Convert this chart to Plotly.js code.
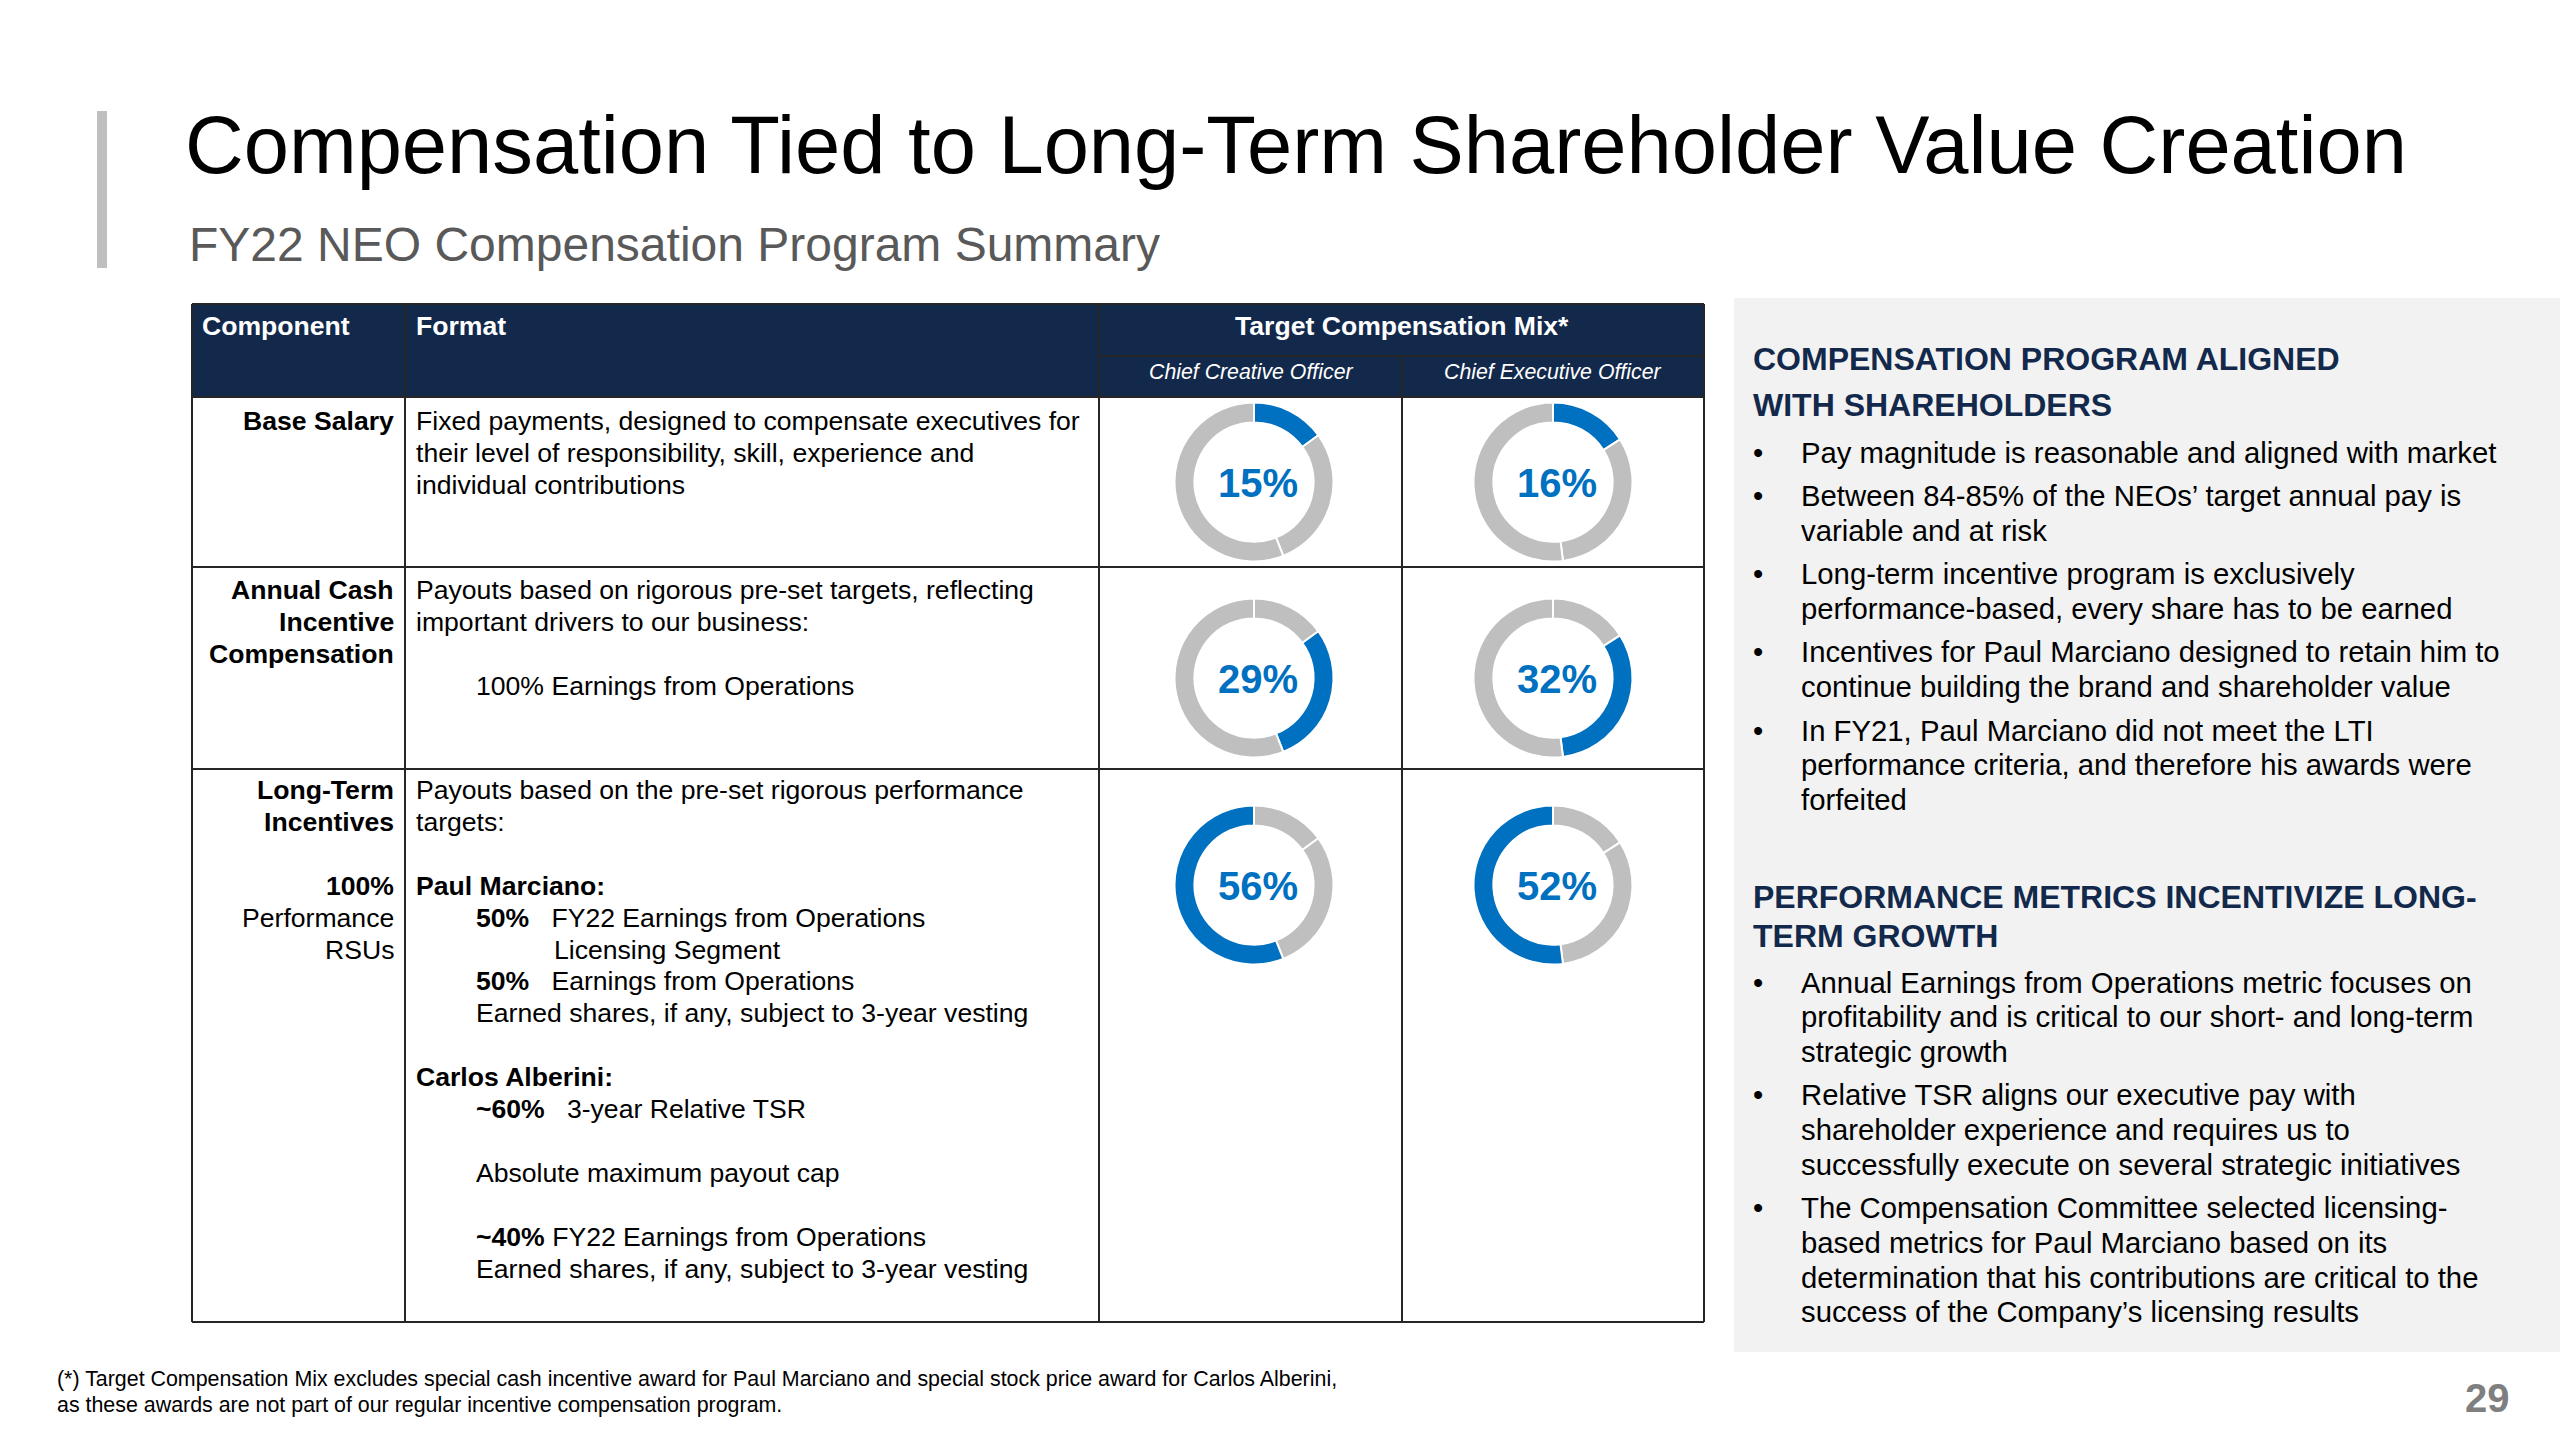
<!DOCTYPE html>
<html>
<head>
<meta charset="utf-8">
<script src="https://cdn.plot.ly/plotly-3.0.1.min.js"></script>
<style>html,body{margin:0;padding:0;background:#fff;}#chart{width:2560px;height:1440px;}</style>
</head>
<body>
<div id="chart"></div>
<script>
// ---------------- DATA ----------------
const mixComponents = ['Base Salary', 'Annual Cash Incentive Compensation', 'Long-Term Incentives'];
const roles = ['Chief Creative Officer', 'Chief Executive Officer'];
const ccoMix = [15, 29, 56];
const ceoMix = [16, 32, 52];

const titleText = 'Compensation Tied to Long-Term Shareholder Value Creation';
const subtitleText = 'FY22 NEO Compensation Program Summary';
const headerLabels = ['Component', 'Format', 'Target Compensation Mix*'];

const componentLines = [
  ['<b>Base Salary</b>'],
  ['<b>Annual Cash</b>', '<b>Incentive</b>', '<b>Compensation</b>'],
  ['<b>Long-Term</b>', '<b>Incentives</b>', '', '<b>100%</b>', 'Performance', 'RSUs']
];
const formatLines = [
  ['Fixed payments, designed to compensate executives for',
   'their level of responsibility, skill, experience and',
   'individual contributions'],
  ['Payouts based on rigorous pre-set targets, reflecting',
   'important drivers to our business:',
   '',
   '100% Earnings from Operations'],
  ['Payouts based on the pre-set rigorous performance',
   'targets:',
   '',
   '<b>Paul Marciano:</b>',
   '<b>50%</b>\u00A0\u00A0\u00A0FY22 Earnings from Operations',
   'Licensing Segment',
   '<b>50%</b>\u00A0\u00A0\u00A0Earnings from Operations',
   'Earned shares, if any, subject to 3-year vesting',
   '',
   '<b>Carlos Alberini:</b>',
   '<b>~60%</b>\u00A0\u00A0\u00A03-year Relative TSR',
   '',
   'Absolute maximum payout cap',
   '',
   '<b>~40%</b> FY22 Earnings from Operations',
   'Earned shares, if any, subject to 3-year vesting']
];
const formatIndent = [
  [0, 0, 0],
  [0, 0, 0, 1],
  [0, 0, 0, 0, 1, 2, 1, 1, 0, 0, 1, 0, 1, 0, 1, 1]
];

const panelHeadings = [
  ['COMPENSATION PROGRAM ALIGNED', 'WITH SHAREHOLDERS'],
  ['PERFORMANCE METRICS INCENTIVIZE LONG-', 'TERM GROWTH']
];
const panelBullets = [
  [
    ['Pay magnitude is reasonable and aligned with market'],
    ['Between 84-85% of the NEOs\u2019 target annual pay is', 'variable and at risk'],
    ['Long-term incentive program is exclusively', 'performance-based, every share has to be earned'],
    ['Incentives for Paul Marciano designed to retain him to', 'continue building the brand and shareholder value'],
    ['In FY21, Paul Marciano did not meet the LTI', 'performance criteria, and therefore his awards were', 'forfeited']
  ],
  [
    ['Annual Earnings from Operations metric focuses on', 'profitability and is critical to our short- and long-term', 'strategic growth'],
    ['Relative TSR aligns our executive pay with', 'shareholder experience and requires us to', 'successfully execute on several strategic initiatives'],
    ['The Compensation Committee selected licensing-', 'based metrics for Paul Marciano based on its', 'determination that his contributions are critical to the', 'success of the Company\u2019s licensing results']
  ]
];
const footnoteLines = [
  '(*) Target Compensation Mix excludes special cash incentive award for Paul Marciano and special stock price award for Carlos Alberini,',
  'as these awards are not part of our regular incentive compensation program.'
];
const pageNumber = '29';

// ---------------- LAYOUT HELPERS ----------------
const W = 2560, H = 1440;
const FONT = '"Liberation Sans", Arial, Helvetica, sans-serif';
const NAVY = '#13294B';
const BLUE = '#0070C0';
const GRAY = '#BFBFBF';
const BORDER = '#262626';
const X = p => p / W;
const Y = p => 1 - p / H;

const annotations = [];
const shapes = [];
function addText(text, x, y, size, color, opts) {
  annotations.push(Object.assign({
    text: text, x: X(x), y: Y(y), xref: 'paper', yref: 'paper', showarrow: false,
    xanchor: 'left', yanchor: 'middle', align: 'left',
    font: {family: FONT, size: size, color: color}
  }, opts || {}));
}
function rect(x0, y0, x1, y1, fill) {
  shapes.push({type: 'rect', xref: 'paper', yref: 'paper', x0: X(x0), x1: X(x1), y0: Y(y1), y1: Y(y0),
    fillcolor: fill, line: {width: 0}, layer: 'below'});
}
function hline(x0, x1, y, w) {
  shapes.push({type: 'line', xref: 'paper', yref: 'paper', x0: X(x0), x1: X(x1), y0: Y(y), y1: Y(y),
    line: {color: BORDER, width: w || 2}, layer: 'above'});
}
function vline(x, y0, y1, w) {
  shapes.push({type: 'line', xref: 'paper', yref: 'paper', x0: X(x), x1: X(x), y0: Y(y0), y1: Y(y1),
    line: {color: BORDER, width: w || 2}, layer: 'above'});
}

// ---------------- TITLE AREA ----------------
rect(97, 111, 107, 268, GRAY);
addText(titleText, 183, 145, 81.3, '#000000');
addText(subtitleText, 187, 245, 48, '#595959');

// ---------------- TABLE ----------------
const colX = [192, 405, 1099, 1402, 1704];
const rowY = [304, 397, 567, 769, 1322];
const subHeadY = 356;
rect(colX[0], rowY[0], colX[4], rowY[1], NAVY);

hline(colX[0], colX[4], rowY[0]);
hline(colX[2], colX[4], subHeadY);
rowY.slice(1).forEach(y => hline(colX[0], colX[4], y));
vline(colX[0], rowY[0], rowY[4]);
vline(colX[1], rowY[0], rowY[4]);
vline(colX[2], rowY[0], rowY[4]);
vline(colX[3], subHeadY, rowY[4]);
vline(colX[4], rowY[0], rowY[4]);

const TS = 26.6;
addText('<b>' + headerLabels[0] + '</b>', 200, 326, TS, '#ffffff');
addText('<b>' + headerLabels[1] + '</b>', 414, 326, TS, '#ffffff');
addText('<b>' + headerLabels[2] + '</b>', (colX[2] + colX[4]) / 2, 326, TS, '#ffffff', {xanchor: 'center'});
roles.forEach((r, i) => {
  addText('<i>' + r + '</i>', (colX[2 + i] + colX[3 + i]) / 2, 372, 21.3, '#ffffff', {xanchor: 'center'});
});

const LINE = 31.9;
const rowStart = [421, 590, 790];
const indentX = [414, 474, 552];
componentLines.forEach((lines, r) => {
  lines.forEach((t, i) => {
    if (t) addText(t, 396, rowStart[r] + i * LINE, TS, '#000000', {xanchor: 'right'});
  });
});
formatLines.forEach((lines, r) => {
  lines.forEach((t, i) => {
    if (t) addText(t, indentX[formatIndent[r][i]], rowStart[r] + i * LINE, TS, '#000000');
  });
});

// ---------------- DONUTS ----------------
const mixByRole = [ccoMix, ceoMix];
const donutCols = [1254, 1553];
const donutRows = [482, 678, 885];
const R = 79.5;
const traces = [];
mixByRole.forEach((mix, c) => {
  mix.forEach((v, k) => {
    const cx = donutCols[c], cy = donutRows[k];
    traces.push({
      type: 'pie', values: mix, labels: mixComponents, sort: false,
      direction: 'clockwise', rotation: 0, hole: 0.75,
      textinfo: 'none', hoverinfo: 'skip', showlegend: false,
      marker: {colors: mix.map((_, j) => j === k ? BLUE : GRAY), line: {color: '#ffffff', width: 2}},
      domain: {x: [X(cx - R), X(cx + R)], y: [Y(cy + R), Y(cy - R)]}
    });
    addText('<b>' + v + '%</b>', cx + 4, cy + 1, 40, BLUE, {xanchor: 'center'});
  });
});

// ---------------- RIGHT PANEL ----------------
rect(1734, 298, 2560, 1352, '#F2F2F2');
const headStart = [359, 897];
const headGap = [46, 39];
const bulletStart = [452, 982];
const BL = 34.7, BGAP = 8.8;
panelHeadings.forEach((lines, s) => {
  lines.forEach((t, i) => addText('<b>' + t + '</b>', 1751, headStart[s] + i * headGap[s], 32, NAVY));
});
panelBullets.forEach((bullets, s) => {
  let idx = 0;
  bullets.forEach((lines, b) => {
    lines.forEach((t, i) => {
      const y = bulletStart[s] + idx * BL + b * BGAP;
      if (i === 0) addText('\u2022', 1751, y, 29.3, '#000000');
      addText(t, 1799, y, 29.3, '#000000');
      idx++;
    });
  });
});

// ---------------- FOOTER ----------------
footnoteLines.forEach((t, i) => addText(t, 55, 1379 + i * 26, 21.4, '#000000'));
addText('<b>' + pageNumber + '</b>', 2487, 1398, 40, '#7F7F7F', {xanchor: 'center'});

Plotly.newPlot('chart', traces, {
  width: W, height: H, margin: {l: 0, r: 0, t: 0, b: 0},
  paper_bgcolor: '#ffffff', plot_bgcolor: '#ffffff',
  showlegend: false, shapes: shapes, annotations: annotations
}, {displayModeBar: false, staticPlot: true});
</script>
</body>
</html>
